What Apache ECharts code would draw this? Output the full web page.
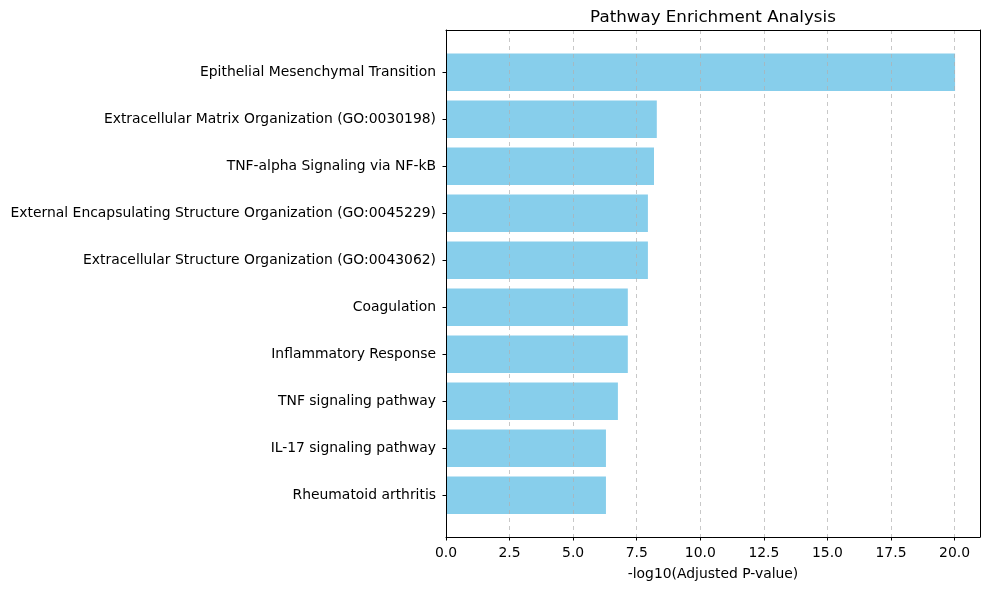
<!DOCTYPE html>
<html>
<head>
<meta charset="utf-8">
<script src="https://cdn.jsdelivr.net/npm/echarts@6/dist/echarts.min.js"></script>
<style>
  html, body { margin: 0; padding: 0; background: #fff; }
  #chart { width: 989px; height: 590px; }
</style>
</head>
<body>
<div id="chart"></div>
<script>
// 通路名称（从上到下）
var pathways = [
    'Epithelial Mesenchymal Transition',
    'Extracellular Matrix Organization (GO:0030198)',
    'TNF-alpha Signaling via NF-kB',
    'External Encapsulating Structure Organization (GO:0045229)',
    'Extracellular Structure Organization (GO:0043062)',
    'Coagulation',
    'Inflammatory Response',
    'TNF signaling pathway',
    'IL-17 signaling pathway',
    'Rheumatoid arthritis'
];
// -log10(Adjusted P-value)
var scores = [20.02, 8.29, 8.18, 7.94, 7.94, 7.15, 7.15, 6.76, 6.29, 6.29];
// x 轴刻度
var xTicks = [0, 2.5, 5, 7.5, 10, 12.5, 15, 17.5, 20];
var xMin = 0, xMax = 21, xStep = 2.5;

var font = 'DejaVu Sans';
var spine = { show: true, onZero: false, lineStyle: { color: '#000', width: 1 } };
var myChart = echarts.init(document.getElementById('chart'));

// 只画边框线的坐标轴
function frameAxis(pos) {
    return {
        gridIndex: 0, type: 'value', position: pos, z: 6, min: 0, max: 1,
        axisLine: spine, axisTick: { show: false }, axisLabel: { show: false }, splitLine: { show: false }
    };
}

var option = {
    animation: false,
    title: {
        text: 'Pathway Enrichment Analysis',
        left: 708,
        top: 4,
        textAlign: 'center',
        textStyle: { fontFamily: font, fontSize: 16.7, fontWeight: 'normal', color: '#000' }
    },
    grid: [
        // 外框 + x 轴
        { left: 446, top: 30, width: 534, height: 507 },
        // 条形区域（上下留出边距）
        { left: 446, top: 48.8, width: 534, height: 470 }
    ],
    xAxis: [
        {
            gridIndex: 0, type: 'value', min: xMin, max: xMax, interval: xStep,
            position: 'bottom',
            z: 5,
            name: '-log10(Adjusted P-value)',
            nameLocation: 'middle',
            nameGap: 30,
            nameTextStyle: { fontFamily: font, fontSize: 13.9, color: '#000' },
            axisLine: spine,
            axisTick: { show: true, length: 3.5, customValues: xTicks, lineStyle: { color: '#000' } },
            axisLabel: {
                margin: 9, fontFamily: font, fontSize: 13.9, color: '#000',
                customValues: xTicks,
                formatter: function (v) { return v.toFixed(1); }
            },
            splitLine: { show: true, lineStyle: { color: '#b0b0b0', type: [4, 4], opacity: 0.7 } }
        },
        {
            gridIndex: 1, type: 'value', min: xMin, max: xMax, show: false
        },
        frameAxis('top')
    ],
    yAxis: [
        frameAxis('left'),
        {
            gridIndex: 1, type: 'category', inverse: true, data: pathways,
            axisLine: { show: false },
            axisTick: { show: true, alignWithLabel: true, length: 3.5, lineStyle: { color: '#000' } },
            axisLabel: { margin: 10, fontFamily: font, fontSize: 13.9, color: '#000', padding: [2, 0, 0, 0] },
            splitLine: { show: false }
        },
        frameAxis('right')
    ],
    series: [{
        type: 'bar',
        xAxisIndex: 1,
        yAxisIndex: 1,
        data: scores,
        barWidth: '80%',
        itemStyle: { color: '#87CEEB' }
    }]
};

myChart.setOption(option);
</script>
</body>
</html>
